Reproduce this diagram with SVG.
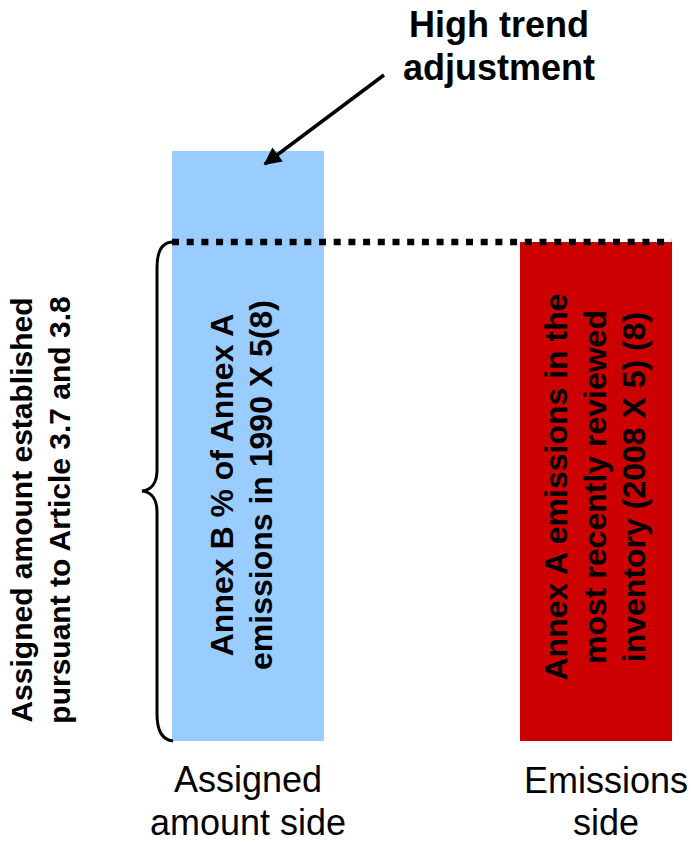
<svg xmlns="http://www.w3.org/2000/svg" width="691" height="842" viewBox="0 0 691 842">
<style>
.b{font-family:"Liberation Sans",Arial,sans-serif;font-weight:bold;fill:#000}
.r{font-family:"Liberation Sans",Arial,sans-serif;fill:#000}
</style>
<defs>
<marker id="ah" viewBox="0 0 10 10" refX="9" refY="5" markerWidth="6" markerHeight="5" markerUnits="strokeWidth" orient="auto">
<path d="M0,0 L10,5 L0,10 z" fill="#000"/>
</marker>
</defs>
<rect width="691" height="842" fill="#fff"/>
<g id="assigned-bar">
<rect x="172" y="151" width="152" height="590" fill="#99ccff"/>
<text class="b" font-size="32" text-anchor="middle" transform="translate(233,485) rotate(-90)">Annex B % of Annex A</text>
<text class="b" font-size="32" text-anchor="middle" transform="translate(272,485) rotate(-90)">emissions in 1990 X 5(8)</text>
</g>
<g id="emissions-bar">
<rect x="520" y="242" width="152" height="499" fill="#cc0000"/>
<text class="b" font-size="32" text-anchor="middle" transform="translate(567,487) rotate(-90)">Annex A  emissions in the</text>
<text class="b" font-size="32" text-anchor="middle" transform="translate(606,487) rotate(-90)">most recently reviewed</text>
<text class="b" font-size="32" text-anchor="middle" transform="translate(645,487) rotate(-90)">inventory (2008 X 5) (8)</text>
</g>
<g id="title">
<text class="b" font-size="36" text-anchor="middle" x="499" y="37">High trend</text>
<text class="b" font-size="36" text-anchor="middle" x="499" y="80">adjustment</text>
</g>
<g id="left-label">
<text class="b" font-size="30" text-anchor="middle" transform="translate(32,510) rotate(-90)">Assigned amount established</text>
<text class="b" font-size="30" text-anchor="middle" transform="translate(70,510) rotate(-90)">pursuant to Article 3.7 and 3.8</text>
</g>
<g id="assigned-label">
<text class="r" font-size="36" text-anchor="middle" x="248" y="792">Assigned</text>
<text class="r" font-size="36" text-anchor="middle" x="248" y="835">amount side</text>
</g>
<g id="emissions-label">
<text class="r" font-size="36" text-anchor="middle" x="606" y="793">Emissions</text>
<text class="r" font-size="36" text-anchor="middle" x="606" y="835">side</text>
</g>
<g id="connectors" fill="none" stroke="#000">
<line x1="172" y1="242" x2="672" y2="242" stroke-width="6.5" stroke-dasharray="7 7.7"/>
<path d="M173,242 C163,242 157,250 157,268 L157,470 C157,482 152,490 142,491 C152,492 157,500 157,512 L157,714 C157,732 163,740 173,741" stroke-width="3"/>
<line x1="384" y1="75" x2="265" y2="164" stroke-width="3.5" marker-end="url(#ah)"/>
</g>
</svg>
